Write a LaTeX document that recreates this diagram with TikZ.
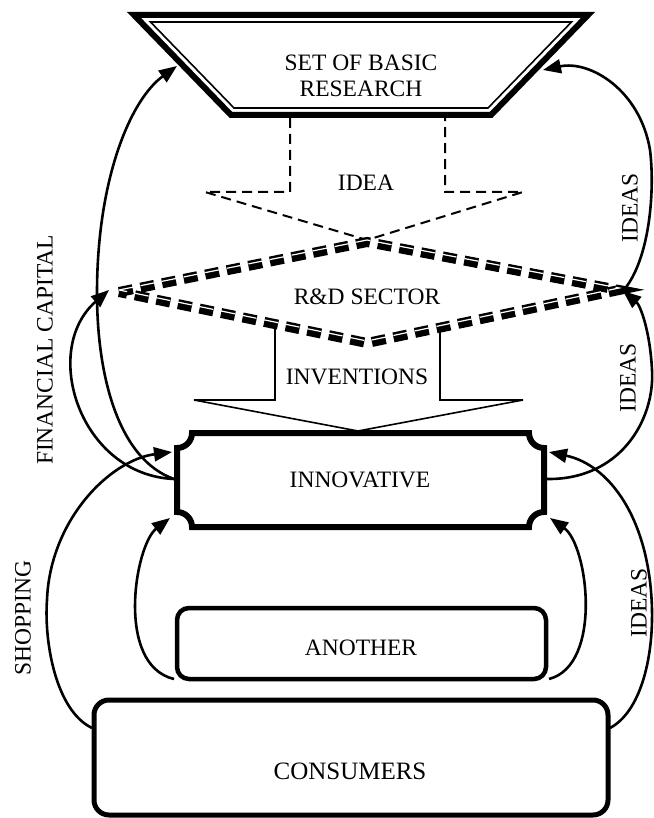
\documentclass[tikz,border=0pt]{standalone}
\usepackage{fontspec}
\setmainfont{Liberation Serif}
\usetikzlibrary{arrows.meta}
\begin{document}
\begin{tikzpicture}[x=1pt,y=-1pt,
  lbl/.style={font=\fontsize{23.5}{26}\selectfont, inner sep=0pt, align=center},
  conn/.style={line width=2.6pt, -{Triangle[length=18pt,width=14pt]}},
  ideaarrow/.style={line width=2pt, dash pattern=on 10pt off 6pt},
  rddash/.style={line width=10pt, dash pattern=on 14pt off 8pt},
  rdinner/.style={line width=1.2pt, white, dash pattern=on 14pt off 8pt},
  boxline/.style={draw, line width=4.8pt, inner sep=0pt}
]
\useasboundingbox (0,0) rectangle (653,818);

% --- SET OF BASIC RESEARCH (trapezoid with thick outer and thin inner line)
\draw[line width=6pt, line join=miter] (134,15) -- (588,15) -- (491,115) -- (231,115) -- cycle;
\draw[line width=1.6pt, line join=miter] (150.5,22) -- (571.5,22) -- (488,108) -- (234,108) -- cycle;
\node[lbl] (basic) at (361,76) {SET OF BASIC\\RESEARCH};

% --- IDEA dashed block arrow
\draw[ideaarrow] (290,118) -- (290,192) -- (205,192) -- (367,240) -- (523,192) -- (445,192) -- (445,118);
\node[lbl] (idea) at (366,183) {IDEA};

% --- R&D SECTOR diamond (thick dashed with a thin white inner line)
\draw[rddash] (119,292) -- (367,242) -- (619,290) -- (367,343) -- cycle;
\draw[rdinner, transform canvas={yshift=2pt}] (119,292) -- (367,242) -- (619,290) -- (367,343) -- cycle;
\node[lbl] (rd) at (367,297) {R\&D SECTOR};

% --- INVENTIONS block arrow
\draw[line width=1.6pt, line join=miter] (275,327) -- (275,400) -- (194,400) -- (358,431) -- (523,400) -- (440,400) -- (440,331);
\node[lbl] (inventions) at (357,377) {INVENTIONS};

% --- INNOVATIVE box with concave corners
\draw[line width=6pt] (192,433) -- (529,433)
  .. controls (529,441.3) and (535.7,448) .. (544,448) -- (544,512)
  .. controls (535.7,512) and (529,518.7) .. (529,527) -- (192,527)
  .. controls (192,518.7) and (185.3,512) .. (177,512) -- (177,448)
  .. controls (185.3,448) and (192,441.3) .. (192,433) -- cycle;
\node[lbl] (innov) at (360,480) {INNOVATIVE};

% --- ANOTHER box
\node[boxline, line width=4.5pt, rounded corners=12pt, minimum width=369pt, minimum height=71pt] (anotherbox) at (361.5,643.5) {};
\node[lbl] (another) at (361,648) {ANOTHER};

% --- CONSUMERS box
\node[boxline, line width=5pt, rounded corners=15pt, minimum width=514pt, minimum height=115pt] (consbox) at (351,757.5) {};
\node[lbl, font=\fontsize{25}{28}\selectfont] (consumers) at (350,771) {CONSUMERS};

% --- attachment points
\coordinate (innoL) at (174,479);
\coordinate (innoR) at (547,479);
\coordinate (innoTL) at (172,452);
\coordinate (innoTR) at (549,452);
\coordinate (innoBL) at (170,518);
\coordinate (innoBR) at (550,518);
\coordinate (basicL) at (177,66);
\coordinate (basicR) at (543,70);
\coordinate (rdL) at (109,290);
\coordinate (rdR) at (623,291);
\coordinate (consL) at (92,728);
\coordinate (consR) at (610,728);
\coordinate (anotherL) at (174,679);
\coordinate (anotherR) at (549,679);

% --- left connectors (financial capital)
\draw[conn] (innoL) .. controls (120,460) and (97,380) .. (97,293)
                    .. controls (97,180) and (130,100) .. (basicL);
\draw[conn] (innoL) .. controls (80,475) and (40,350) .. (rdL);

% --- right connectors (ideas)
\draw[conn] (innoR) .. controls (620,480) and (655,420) .. (652,370)
                    .. controls (650,330) and (640,305) .. (rdR);
\draw[conn] (rdR) .. controls (650,260) and (655,190) .. (650,150)
                  .. controls (640,90) and (590,60) .. (basicR);

% --- shopping / lower ideas
\draw[conn] (consL) .. controls (55,710) and (44,640) .. (47,600)
                    .. controls (50,520) and (110,460) .. (innoTL);
\draw[conn] (consR) .. controls (640,712) and (653,660) .. (652,610)
                    .. controls (650,520) and (610,465) .. (innoTR);

% --- another -> innovative
\draw[conn] (anotherL) .. controls (115,665) and (135,545) .. (innoBL);
\draw[conn] (anotherR) .. controls (603,665) and (588,545) .. (innoBR);

% --- rotated labels
\node[lbl, rotate=90] (fin) at (45,350) {FINANCIAL CAPITAL};
\node[lbl, rotate=90] (shop) at (23,618) {SHOPPING};
\node[lbl, rotate=90] (ideasA) at (630,208) {IDEAS};
\node[lbl, rotate=90] (ideasB) at (628,378) {IDEAS};
\node[lbl, rotate=90] (ideasC) at (639,603) {IDEAS};
\end{tikzpicture}
\end{document}
